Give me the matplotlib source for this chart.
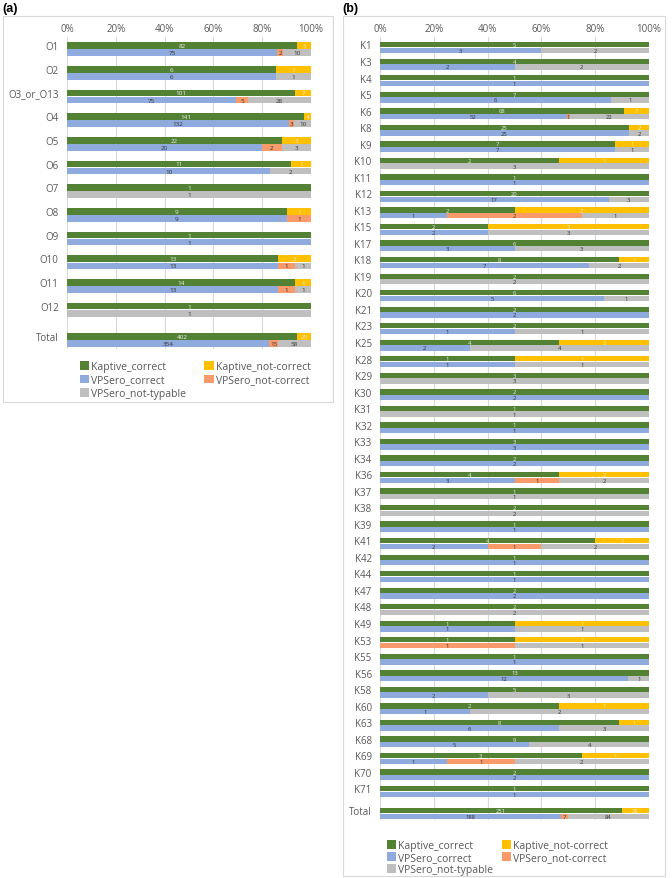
import matplotlib
matplotlib.use('Agg')
import matplotlib.pyplot as plt
from matplotlib.patches import Patch, Rectangle

plt.rcParams['font.family'] = ['Open Sans', 'DejaVu Sans']

# ---- panel (a): O serotypes ----
O_TYPES = ['O1', 'O2', 'O3_or_O13', 'O4', 'O5', 'O6', 'O7', 'O8', 'O9',
           'O10', 'O11', 'O12', 'Total']
O_KAPTIVE_CORRECT = [82, 6, 101, 141, 22, 11, 1, 9, 1, 13, 14, 1, 402]
O_KAPTIVE_NOT = [5, 1, 7, 4, 3, 1, 0, 1, 0, 2, 1, 0, 25]
O_VPSERO_CORRECT = [75, 6, 75, 132, 20, 10, 0, 9, 1, 13, 13, 0, 354]
O_VPSERO_NOT = [2, 0, 5, 3, 2, 0, 0, 1, 0, 1, 1, 0, 15]
O_VPSERO_NT = [10, 1, 28, 10, 3, 2, 1, 0, 0, 1, 1, 1, 58]

# ---- panel (b): K serotypes ----
K_TYPES = ['K1', 'K3', 'K4', 'K5', 'K6', 'K8', 'K9', 'K10', 'K11', 'K12',
           'K13', 'K15', 'K17', 'K18', 'K19', 'K20', 'K21', 'K23', 'K25',
           'K28', 'K29', 'K30', 'K31', 'K32', 'K33', 'K34', 'K36', 'K37',
           'K38', 'K39', 'K41', 'K42', 'K44', 'K47', 'K48', 'K49', 'K53',
           'K55', 'K56', 'K58', 'K60', 'K63', 'K68', 'K69', 'K70', 'K71',
           'Total']
K_KAPTIVE_CORRECT = [5, 4, 1, 7, 68, 25, 7, 2, 1, 20, 2, 2, 6, 8, 2, 6, 2, 2,
                     4, 1, 3, 2, 1, 1, 3, 2, 4, 1, 2, 1, 4, 1, 1, 2, 2, 1, 1,
                     1, 13, 5, 2, 8, 9, 3, 2, 1, 251]
K_KAPTIVE_NOT = [0, 0, 0, 0, 7, 2, 1, 1, 0, 0, 2, 3, 0, 1, 0, 0, 0, 0, 2, 1,
                 0, 0, 0, 0, 0, 0, 2, 0, 0, 0, 1, 0, 0, 0, 0, 1, 1, 0, 0, 0,
                 1, 1, 0, 1, 0, 0, 28]
K_VPSERO_CORRECT = [3, 2, 1, 6, 52, 25, 7, 0, 1, 17, 1, 2, 3, 7, 0, 5, 2, 1,
                    2, 1, 0, 2, 0, 1, 3, 2, 3, 0, 0, 1, 2, 1, 1, 2, 0, 1, 0,
                    1, 12, 2, 1, 6, 5, 1, 2, 1, 188]
K_VPSERO_NOT = [0, 0, 0, 0, 1, 0, 0, 0, 0, 0, 2, 0, 0, 0, 0, 0, 0, 0, 0, 0,
                0, 0, 0, 0, 0, 0, 1, 0, 0, 0, 1, 0, 0, 0, 0, 0, 1, 0, 0, 0,
                0, 0, 0, 1, 0, 0, 7]
K_VPSERO_NT = [2, 2, 0, 1, 22, 2, 1, 3, 0, 3, 1, 3, 3, 2, 2, 1, 0, 1, 4, 1,
               3, 0, 1, 0, 0, 0, 2, 1, 2, 0, 2, 0, 0, 0, 2, 1, 1, 0, 1, 3,
               2, 3, 4, 2, 0, 0, 84]

SERIES = ['Kaptive_correct', 'Kaptive_not-correct', 'VPSero_correct',
          'VPSero_not-correct', 'VPSero_not-typable']
COLORS = {'Kaptive_correct': '#548235', 'Kaptive_not-correct': '#FFC000',
          'VPSero_correct': '#8FAADC', 'VPSero_not-correct': '#F89A6A',
          'VPSero_not-typable': '#BFBFBF'}
GRAY_TXT = '#595959'

W, H = 672, 879
fig = plt.figure(figsize=(W / 100, H / 100), dpi=100)


def px_axes(x0, y0, x1, y1):
    return fig.add_axes([x0 / W, 1 - y1 / H, (x1 - x0) / W, (y1 - y0) / H])


def stacked_row(ax, y, h, values, colors, txt_color, fs):
    total = sum(values)
    left = 0
    for v, c in zip(values, colors):
        if v == 0:
            continue
        w = v / total * 100
        ax.barh(y, w, left=left, height=h, color=c, edgecolor='none', zorder=2)
        ax.text(left + w / 2, y, str(v), ha='center', va='center',
                fontsize=fs, color=txt_color, zorder=3)
        left += w


def draw_panel(ax, cats, kc, kn, vc, vn, vnt, gap, h, off, fs_lab, fs_val, ylim):
    n = len(cats)
    pos = [i if i < n - 1 else n - 2 + gap for i in range(n)]
    for i in range(n):
        stacked_row(ax, pos[i] - off, h, [kc[i], kn[i]],
                    [COLORS['Kaptive_correct'], COLORS['Kaptive_not-correct']],
                    '#EDEDED', fs_val)
        stacked_row(ax, pos[i] + off, h, [vc[i], vn[i], vnt[i]],
                    [COLORS['VPSero_correct'], COLORS['VPSero_not-correct'],
                     COLORS['VPSero_not-typable']], '#333333', fs_val)
    ax.set_xlim(0, 100)
    ax.set_ylim(*ylim)
    ax.set_yticks([p - off * 1.1 for p in pos])
    ax.set_yticklabels(cats, fontsize=fs_lab, color=GRAY_TXT)
    ax.set_xticks(range(0, 101, 20))
    ax.set_xticklabels([f'{t}%' for t in range(0, 101, 20)], fontsize=fs_lab,
                       color=GRAY_TXT)
    ax.xaxis.tick_top()
    ax.tick_params(axis='y', length=0, pad=6)
    ax.tick_params(axis='x', length=0, pad=2.5)
    ax.grid(axis='x', color='#D9D9D9', linewidth=0.8, zorder=0)
    ax.set_axisbelow(True)
    for s in ax.spines.values():
        s.set_visible(False)


# panel frames
fig.add_artist(Rectangle((3 / W, 1 - 403 / H), 330 / W, 386 / H,
                         transform=fig.transFigure, fill=False,
                         edgecolor='#D9D9D9', linewidth=0.8))
fig.add_artist(Rectangle((343 / W, 1 - 877 / H), 322 / W, 860 / H,
                         transform=fig.transFigure, fill=False,
                         edgecolor='#D9D9D9', linewidth=0.8))
fig.text(2 / W, 1 - 9 / H, '(a)', fontsize=9, fontweight='bold', va='center',
         family=['Liberation Sans', 'DejaVu Sans'])
fig.text(342 / W, 1 - 9 / H, '(b)', fontsize=9, fontweight='bold', va='center',
         family=['Liberation Sans', 'DejaVu Sans'])

ax_a = px_axes(67, 38, 311, 350)
draw_panel(ax_a, O_TYPES, O_KAPTIVE_CORRECT, O_KAPTIVE_NOT, O_VPSERO_CORRECT,
           O_VPSERO_NOT, O_VPSERO_NT, 1.28, 0.28, 0.15, 7, 4.5, (12.66, -0.51))

ax_b = px_axes(380, 38, 649, 821)
draw_panel(ax_b, K_TYPES, K_KAPTIVE_CORRECT, K_KAPTIVE_NOT, K_VPSERO_CORRECT,
           K_VPSERO_NOT, K_VPSERO_NT, 1.34, 0.32, 0.17, 7, 4.2, (46.73, -0.64))

order = ['Kaptive_correct', 'VPSero_correct', 'VPSero_not-typable',
         'Kaptive_not-correct', 'VPSero_not-correct']
handles = [Patch(facecolor=COLORS[s], label=s) for s in order]

fig.legend(handles=handles, loc='upper left', ncol=2, frameon=False,
           bbox_to_anchor=(80 / W, 1 - 362 / H), fontsize=7.5,
           labelcolor=GRAY_TXT, handlelength=0.9, handleheight=0.9,
           handletextpad=0.2, labelspacing=0.25, columnspacing=1.7,
           borderpad=0, borderaxespad=0)
fig.legend(handles=handles, loc='upper left', ncol=2, frameon=False,
           bbox_to_anchor=(387 / W, 1 - 841 / H), fontsize=7.5,
           labelcolor=GRAY_TXT, handlelength=0.9, handleheight=0.9,
           handletextpad=0.2, labelspacing=0.1, columnspacing=0.8,
           borderpad=0, borderaxespad=0)

fig.savefig('out.png', dpi=100)
